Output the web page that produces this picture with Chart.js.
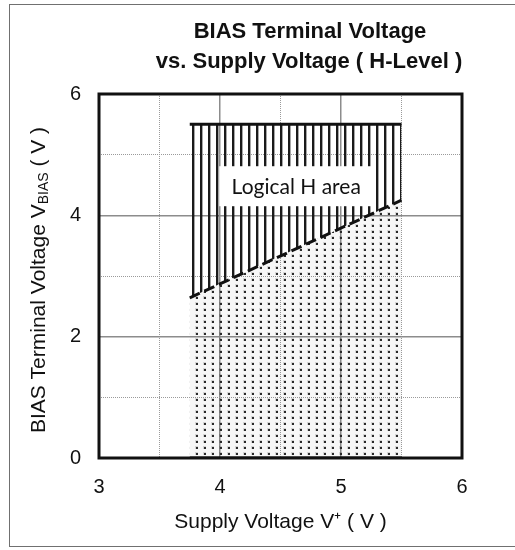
<!DOCTYPE html>
<html>
<head>
<meta charset="utf-8">
<script src="https://cdn.jsdelivr.net/npm/chart.js@4.4.1/dist/chart.umd.min.js"></script>
<style>
  html, body { margin: 0; padding: 0; background: #fff; }
  #wrap { position: relative; width: 515px; height: 550px; overflow: hidden; }
  #frame { position: absolute; left: 9px; top: 4px; width: 530px; height: 543px; border: 1.5px solid #707070; box-sizing: border-box; }
  #chart { position: absolute; left: 0; top: 0; }
</style>
</head>
<body>
<div id="wrap">
  <div id="frame"></div>
  <canvas id="chart" width="515" height="550"></canvas>
</div>
<script>
// axis ranges and labels
const xRange = [3, 6];
const yRange = [0, 6];
const xTickLabels = [3, 4, 5, 6];
const yTickLabels = [0, 2, 4, 6];

// region boundaries (supply voltage V+)
const supplyV = [3.75, 5.5];
const thresholdV = [2.64, 4.25];  // dashed H-level threshold
const ceilingV = [5.5, 5.5];      // top of logical H area
const floorV = [0, 0];

const areaLabel = "Logical H area";
const areaLabelPos = { x: 4.63, y: 4.48 };

const titleLines = ["BIAS Terminal Voltage", "vs. Supply Voltage ( H-Level )"];
const font = "'Liberation Sans', Arial, sans-serif";

function pts(ys) {
  return supplyV.map((x, i) => ({ x: x, y: ys[i] }));
}

// dot pattern for the region under the threshold
function dotPattern(ctx) {
  const c = document.createElement("canvas");
  c.width = 8; c.height = 6;
  const g = c.getContext("2d");
  g.fillStyle = "rgba(0,0,0,0.03)";
  g.fillRect(0, 0, 8, 6);
  g.fillStyle = "rgba(0,0,0,0.14)";
  g.fillRect(3, 2, 3, 3);
  g.fillStyle = "#2a2a2a";
  g.fillRect(4, 3, 2, 2);
  return ctx.createPattern(c, "repeat");
}

// vertical hatch for the logical H area
function hatchPattern(ctx) {
  const c = document.createElement("canvas");
  c.width = 8; c.height = 2;
  const g = c.getContext("2d");
  g.fillStyle = "#1a1a1a";
  g.fillRect(0, 0, 2, 2);
  g.fillStyle = "rgba(0,0,0,0.35)";
  g.fillRect(2, 0, 1, 2);
  return ctx.createPattern(c, "repeat");
}

const ctx = document.getElementById("chart").getContext("2d");

const decor = {
  id: "decor",
  afterDatasetsDraw(chart) {
    const c = chart.ctx;
    const xs = chart.scales.x, ys = chart.scales.y;
    const a = chart.chartArea;
    c.save();
    // label box
    c.font = "21px Lato, 'Open Sans', sans-serif";
    const lx = xs.getPixelForValue(areaLabelPos.x);
    const ly = ys.getPixelForValue(areaLabelPos.y);
    c.fillStyle = "#fff";
    c.fillRect(lx - 77, ly - 20, 154, 40);
    c.fillStyle = "#111";
    c.textAlign = "center";
    c.textBaseline = "middle";
    c.fillText(areaLabel, lx, ly + 1);
    // plot frame
    c.strokeStyle = "#111";
    c.lineWidth = 3;
    c.strokeRect(a.left, a.top, a.right - a.left, a.bottom - a.top);
    c.restore();
  },
  afterDraw(chart) {
    const c = chart.ctx;
    const a = chart.chartArea;
    c.save();
    // title
    c.fillStyle = "#111";
    c.textAlign = "center";
    c.textBaseline = "middle";
    c.font = "bold 22px " + font;
    c.fillText(titleLines[0], 310, 32);
    c.fillText(titleLines[1], 309, 62);
    // y axis title with subscript
    const cy = (a.top + a.bottom) / 2 + 4;
    c.translate(39, cy);
    c.rotate(-Math.PI / 2);
    const big = "21px " + font, small = "14px " + font;
    const p1 = "BIAS Terminal Voltage V", p2 = "BIAS", p3 = " ( V )";
    c.font = big; const w1 = c.measureText(p1).width, w3 = c.measureText(p3).width;
    c.font = small; const w2 = c.measureText(p2).width;
    let x = -(w1 + w2 + w3) / 2;
    c.textAlign = "left";
    c.font = big; c.fillText(p1, x, 0); x += w1;
    c.font = small; c.fillText(p2, x, 5); x += w2;
    c.font = big; c.fillText(p3, x, 0);
    c.restore();
  }
};

new Chart(ctx, {
  type: "line",
  data: {
    datasets: [
      {
        label: "threshold",
        data: pts(thresholdV),
        borderColor: "#111",
        borderWidth: 3,
        borderDash: [11, 5],
        pointRadius: 0,
        fill: "origin",
        backgroundColor: dotPattern(ctx),
      },
      {
        label: "ceiling",
        data: pts(ceilingV),
        borderColor: "#111",
        borderWidth: 3,
        pointRadius: 0,
        fill: { target: 0 },
        backgroundColor: hatchPattern(ctx),
      },
      {
        label: "floor",
        data: pts(floorV),
        borderColor: "#111",
        borderWidth: 3,
        pointRadius: 0,
        fill: false,
      },
    ],
  },
  options: {
    responsive: false,
    animation: false,
    layout: { padding: { top: 94, right: 53, left: 0, bottom: 0 } },
    plugins: {
      legend: { display: false },
      tooltip: { enabled: false },
      title: { display: false },
    },
    scales: {
      x: {
        type: "linear",
        min: xRange[0],
        max: xRange[1],
        afterFit: (s) => { s.height = 92; },
        ticks: {
          stepSize: 0.5,
          padding: 17,
          color: "#111",
          font: { family: font, size: 20 },
          callback: (v) => (xTickLabels.includes(v) ? v : ""),
        },
        grid: {
          drawTicks: false,
          color: (c) => (c.tick && Number.isInteger(c.tick.value) ? "#8c8c8c" : "#9a9a9a"),
          lineWidth: (c) => (c.tick && Number.isInteger(c.tick.value) ? 1.5 : 1),
        },
        border: {
          display: false,
          dash: (c) => (c.tick && !Number.isInteger(c.tick.value) ? [1, 1] : []),
        },
        title: {
          display: true,
          text: "Supply Voltage V\u207A ( V )",
          color: "#111",
          font: { family: font, size: 21 },
          padding: { top: 0, bottom: 15 },
        },
      },
      y: {
        type: "linear",
        min: yRange[0],
        max: yRange[1],
        afterFit: (s) => { s.width = 99; },
        ticks: {
          stepSize: 1,
          padding: 18,
          color: "#111",
          font: { family: font, size: 20 },
          callback: (v) => (yTickLabels.includes(v) ? v : ""),
        },
        grid: {
          drawTicks: false,
          color: (c) => (c.tick && c.tick.value % 2 === 0 ? "#8c8c8c" : "#9a9a9a"),
          lineWidth: (c) => (c.tick && c.tick.value % 2 === 0 ? 1.5 : 1),
        },
        border: {
          display: false,
          dash: (c) => (c.tick && c.tick.value % 2 !== 0 ? [1, 1] : []),
        },
      },
    },
  },
  plugins: [decor],
});
</script>
</body>
</html>
